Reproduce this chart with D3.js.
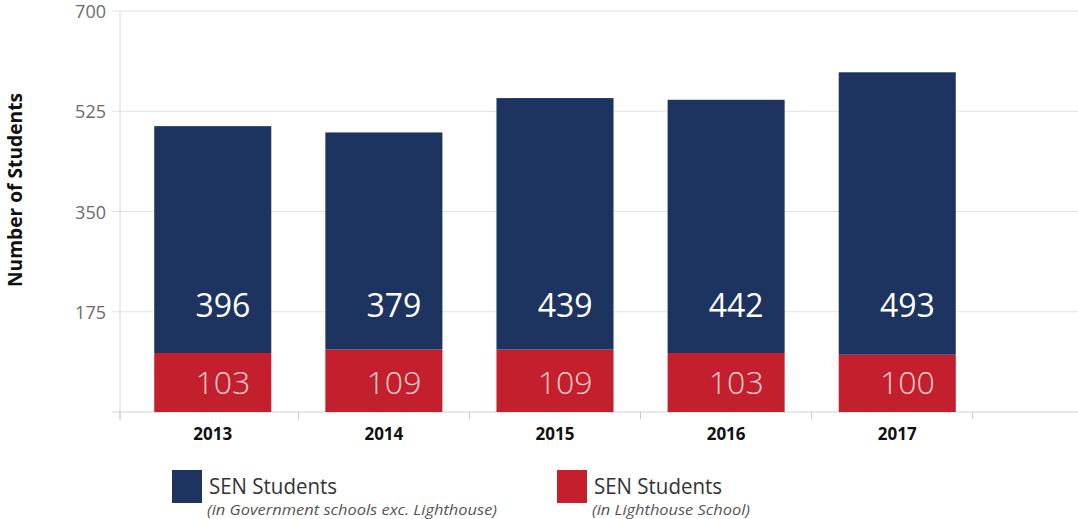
<!DOCTYPE html>
<html>
<head>
<meta charset="utf-8">
<script src="https://cdn.jsdelivr.net/npm/d3@7"></script>
<style>
  body { margin: 0; background: #fff; }
  svg { font-family: 'Open Sans', sans-serif; }
</style>
</head>
<body>
<div id="chart"></div>
<script>
'use strict'

// data
const years = ['2013', '2014', '2015', '2016', '2017']
const govStudents = [396, 379, 439, 442, 493]
const lighthouseStudents = [103, 109, 109, 103, 100]
const yTicks = [0, 175, 350, 525, 700]

const W = 1078, H = 519
const navy = '#1d3461', red = '#c41f2c'

const svg = d3.select('#chart').append('svg')
  .attr('width', W).attr('height', H)

const x = d3.scaleBand().domain(years).range([120, 990]).paddingInner(0.316).paddingOuter(0.2)
const y = d3.scaleLinear().domain([0, 700]).range([412, 11])

// gridlines
svg.append('g').selectAll('line')
  .data(yTicks.slice(1))
  .enter().append('line')
  .attr('x1', 112).attr('x2', W)
  .attr('y1', d => y(d)).attr('y2', d => y(d))
  .attr('stroke', '#e2e2e2').attr('stroke-width', 1)

// y axis line
svg.append('line')
  .attr('x1', 120).attr('x2', 120).attr('y1', y(700)).attr('y2', 420)
  .attr('stroke', '#d8d8d8')

// y tick labels
svg.append('g').selectAll('text')
  .data(yTicks.slice(1))
  .enter().append('text')
  .attr('x', 106).attr('y', d => y(d) + 7)
  .attr('text-anchor', 'end')
  .attr('font-size', 18).attr('fill', '#6b6b6b')
  .text(d => d)

// x axis: ticks between the bars, first at the axis, last after 2017
const gap = x.step() * x.paddingInner() / 2
const bounds = [120].concat(years.slice(1).map(d => x(d) - gap))
bounds.push(x(years[years.length - 1]) + x.bandwidth() + 17)
svg.append('line')
  .attr('x1', 112).attr('x2', W).attr('y1', y(0)).attr('y2', y(0))
  .attr('stroke', '#d0d0d0')
svg.append('g').selectAll('line')
  .data(bounds)
  .enter().append('line')
  .attr('x1', d => d).attr('x2', d => d)
  .attr('y1', y(0)).attr('y2', y(0) + 7)
  .attr('stroke', '#c8c8c8')

svg.append('g').selectAll('text')
  .data(years)
  .enter().append('text')
  .attr('x', d => x(d) + x.bandwidth() / 2)
  .attr('y', 440)
  .attr('text-anchor', 'middle')
  .attr('font-size', 17).attr('font-weight', 'bold').attr('fill', '#111')
  .text(d => d)

// bars
const bars = svg.append('g').selectAll('g')
  .data(years.map((d, i) => ({ year: d, gov: govStudents[i], lh: lighthouseStudents[i] })))
  .enter().append('g')

bars.append('rect')
  .attr('x', d => x(d.year))
  .attr('width', x.bandwidth())
  .attr('y', d => y(d.lh))
  .attr('height', d => y(0) - y(d.lh))
  .attr('fill', red)

bars.append('rect')
  .attr('x', d => x(d.year))
  .attr('width', x.bandwidth())
  .attr('y', d => y(d.lh + d.gov))
  .attr('height', d => y(d.lh) - y(d.lh + d.gov))
  .attr('fill', navy)

// value labels
bars.append('text')
  .attr('x', d => x(d.year) + x.bandwidth() - 21)
  .attr('y', 317)
  .attr('text-anchor', 'end')
  .attr('font-size', 32).attr('fill', '#fff')
  .text(d => d.gov)

bars.append('text')
  .attr('x', d => x(d.year) + x.bandwidth() - 21)
  .attr('y', 394)
  .attr('text-anchor', 'end')
  .attr('font-size', 32).attr('font-weight', 300).attr('fill', '#f8d0d3')
  .text(d => d.lh)

// y axis title
svg.append('text')
  .attr('transform', 'translate(22,190) rotate(-90)')
  .attr('text-anchor', 'middle')
  .attr('font-size', 19).attr('font-weight', 'bold').attr('fill', '#111')
  .attr('textLength', 194).attr('lengthAdjust', 'spacingAndGlyphs')
  .text('Number of Students')

// legend
const legend = [
  { x: 172, color: navy, title: 'SEN Students', sub: '(in Government schools exc. Lighthouse)', subW: 290 },
  { x: 557, color: red, title: 'SEN Students', sub: '(in Lighthouse School)', subW: 158 }
]
const lg = svg.append('g').selectAll('g')
  .data(legend)
  .enter().append('g')
lg.append('rect')
  .attr('x', d => d.x).attr('y', 470).attr('width', 30).attr('height', 33)
  .attr('fill', d => d.color)
lg.append('text')
  .attr('x', d => d.x + 37).attr('y', 494)
  .attr('font-size', 22).attr('fill', '#333')
  .attr('textLength', 128).attr('lengthAdjust', 'spacingAndGlyphs')
  .text(d => d.title)
lg.append('text')
  .attr('x', d => d.x + 35).attr('y', 515)
  .attr('font-size', 15).attr('font-style', 'italic').attr('fill', '#555')
  .attr('textLength', d => d.subW).attr('lengthAdjust', 'spacingAndGlyphs')
  .text(d => d.sub)
</script>
</body>
</html>
